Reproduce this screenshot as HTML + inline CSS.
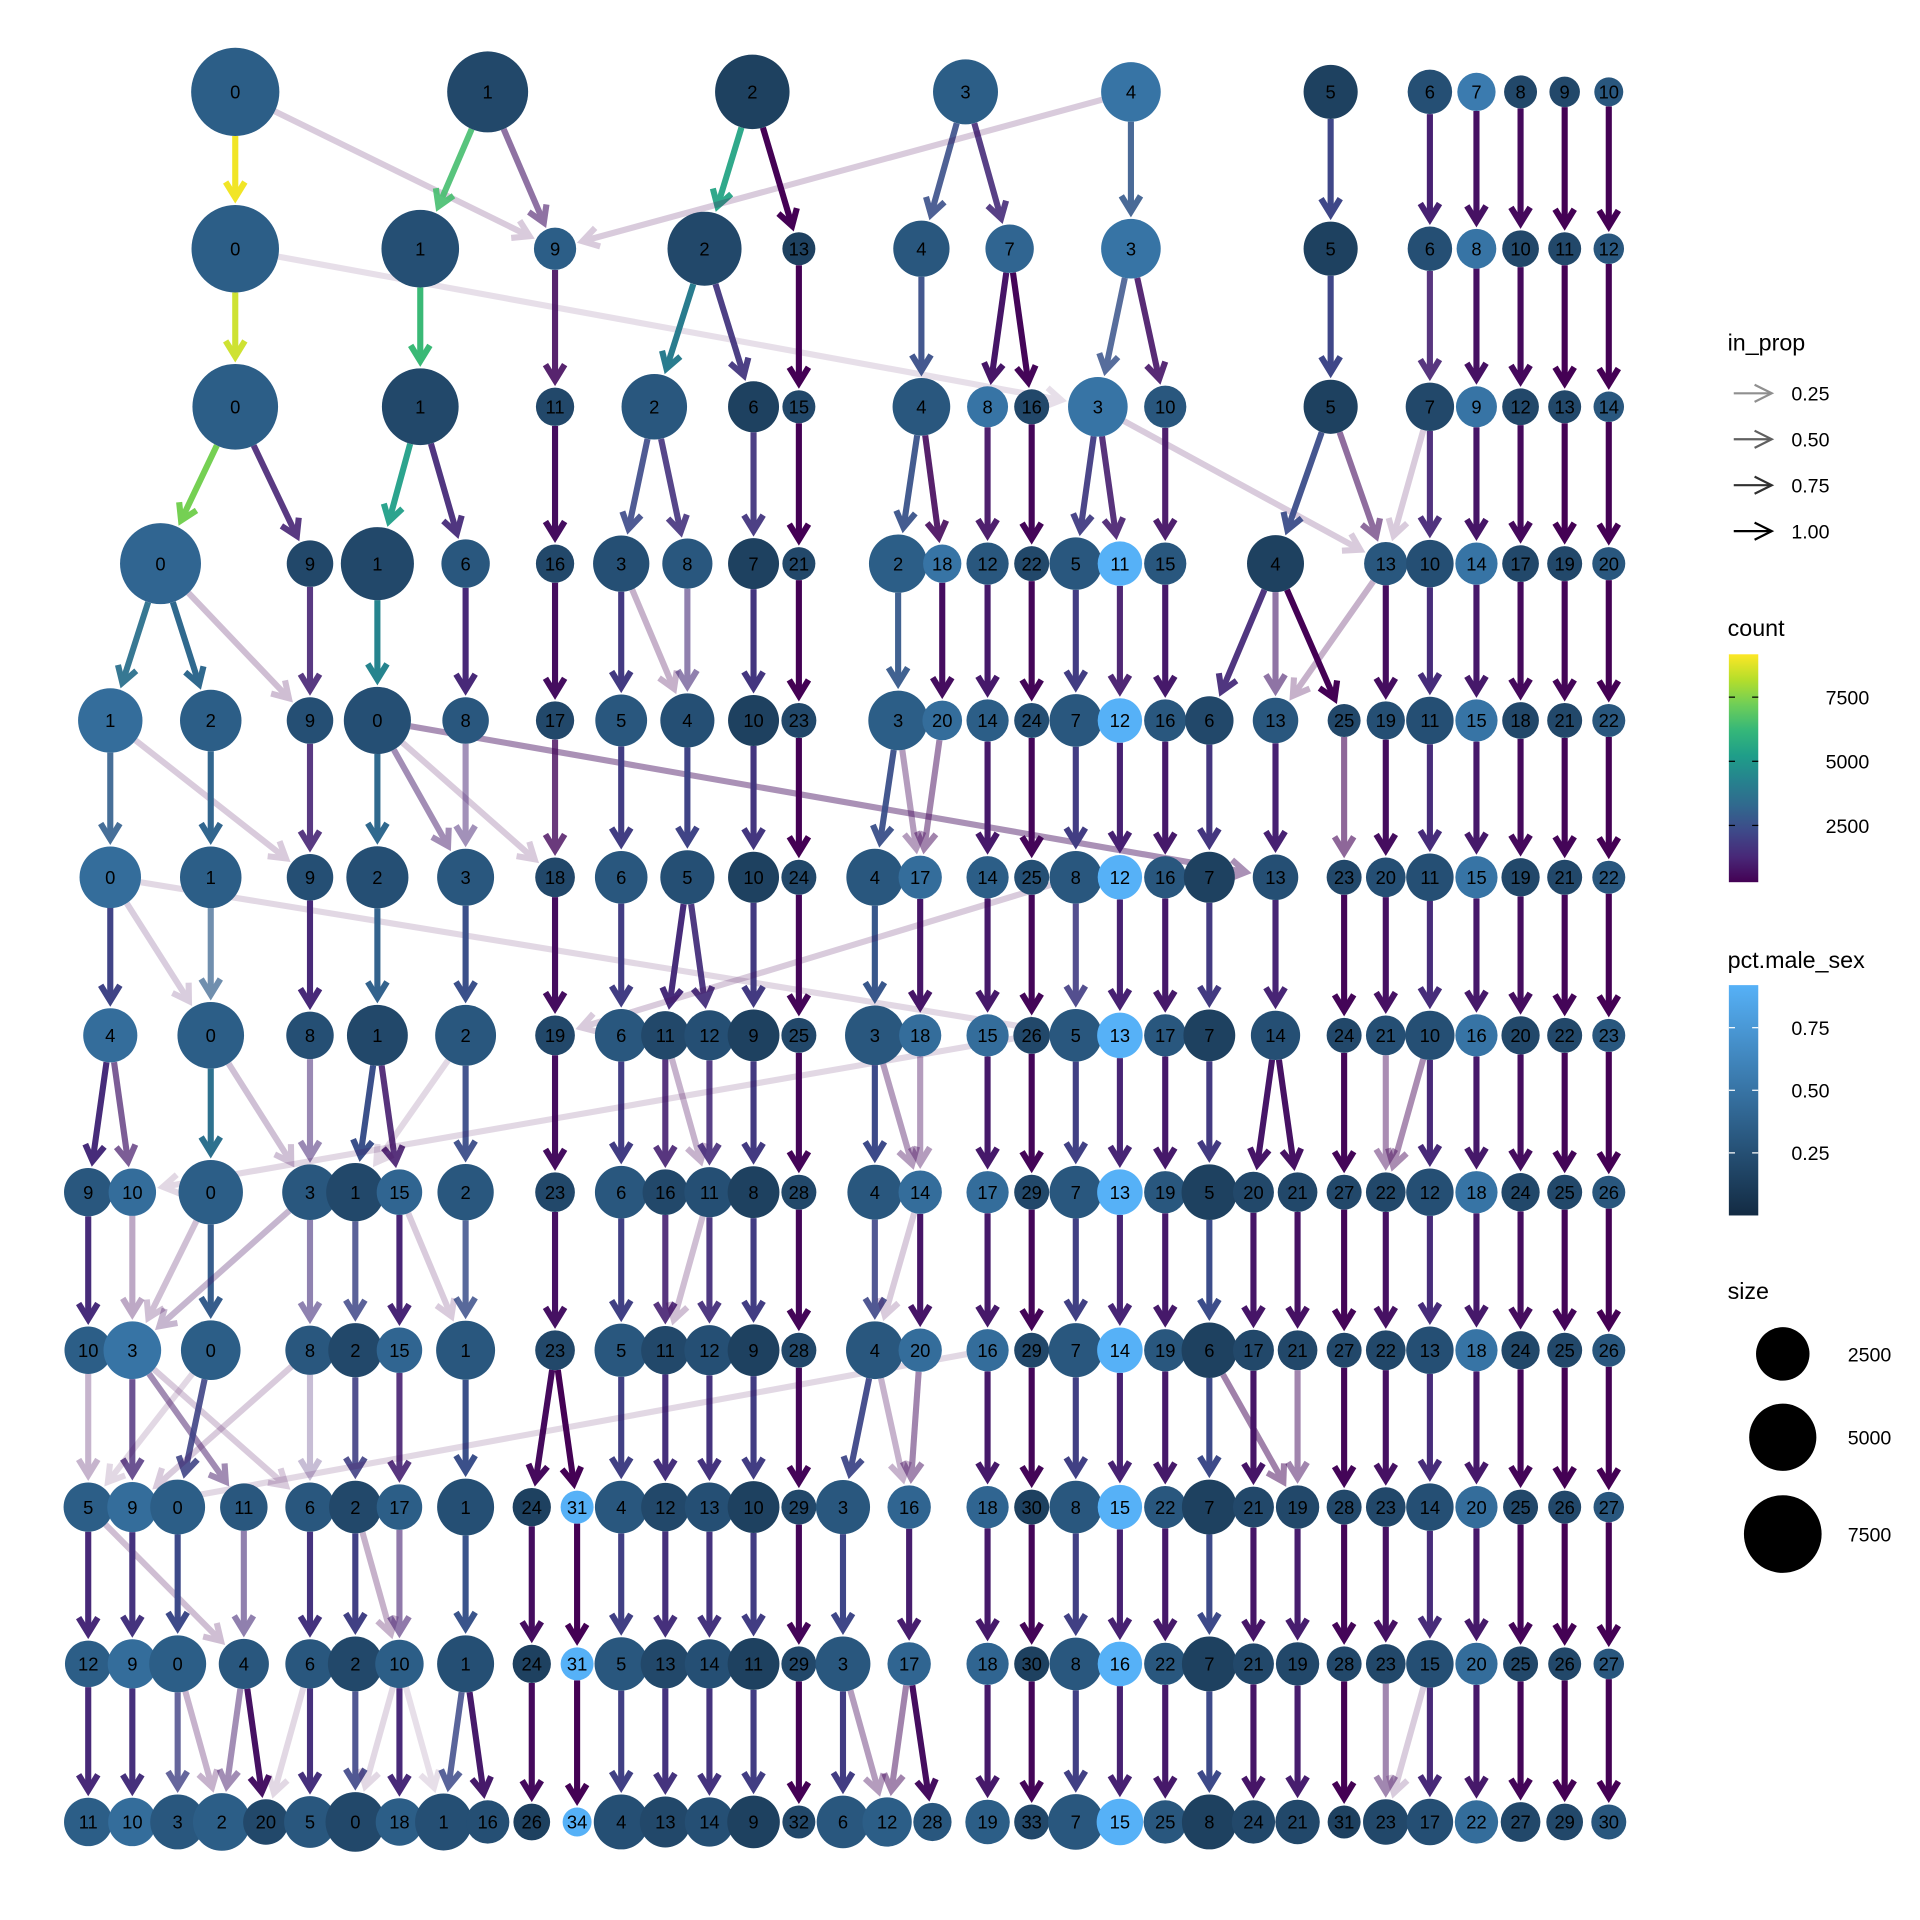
<!DOCTYPE html>
<html><head><meta charset="utf-8"><style>
html,body{margin:0;padding:0;background:#fff}
svg{display:block;font-family:"Liberation Sans",sans-serif}
</style></head><body>
<svg id="chart" width="1920" height="1920" viewBox="0 0 1567 1567" xmlns="http://www.w3.org/2000/svg">
<g id="edges"></g>
<g id="nodes"></g>
<g id="legend"></g>
</svg>
<script>
// ---- data: nodes per resolution row: [cluster, count, pct.male_sex]
const row0=[[0,9200,.35],[1,7300,.2],[2,5800,.15],[3,3900,.35],[4,3000,.5],[5,2200,.15],[6,1100,.25],[7,600,.55],[8,300,.2],[9,200,.2],[10,150,.3]];
const row1=[[0,9000,.35],[1,6500,.25],[9,900,.35],[2,5700,.2],[13,300,.15],[4,2500,.3],[7,1500,.4],[3,3000,.5],[5,2200,.15],[6,1100,.25],[8,700,.5],[10,500,.2],[11,300,.2],[12,200,.3]];
const row2=[[0,8500,.35],[1,6300,.2],[11,600,.2],[2,4000,.3],[6,1800,.15],[15,300,.2],[4,2700,.3],[8,800,.5],[16,400,.2],[3,3000,.5],[10,900,.3],[5,2200,.15],[7,1500,.2],[9,800,.5],[12,500,.2],[13,300,.2],[14,200,.3]];
const row3=[[0,7300,.4],[9,1300,.2],[1,5500,.2],[6,1500,.3],[16,600,.2],[3,2500,.25],[8,1700,.3],[7,1800,.15],[21,300,.2],[2,2800,.35],[18,600,.5],[12,900,.3],[22,400,.2],[5,2000,.3],[11,1100,.95],[15,900,.3],[4,2600,.15],[13,1000,.3],[10,1400,.25],[14,900,.5],[17,500,.2],[19,400,.2],[20,300,.3]];
const row4=[[1,3800,.45],[2,3300,.35],[9,1300,.25],[0,4300,.25],[8,1300,.3],[17,600,.2],[5,1900,.3],[4,2200,.25],[10,1800,.15],[23,400,.2],[3,3000,.35],[20,700,.45],[14,900,.35],[24,400,.25],[7,2000,.3],[12,1100,.95],[16,900,.3],[6,1500,.2],[13,1200,.3],[25,300,.2],[19,600,.25],[11,1400,.25],[15,900,.5],[18,500,.2],[21,400,.2],[22,300,.3]];
const row5=[[0,3300,.45],[1,3300,.35],[9,1300,.25],[2,3400,.25],[3,2600,.3],[18,700,.2],[6,2000,.3],[5,2200,.25],[10,1800,.15],[24,400,.2],[4,2600,.3],[17,1000,.45],[14,900,.35],[25,400,.25],[8,2000,.3],[12,1100,.95],[16,900,.3],[7,1800,.15],[13,1200,.25],[23,400,.2],[20,700,.25],[11,1400,.25],[15,900,.5],[19,600,.2],[21,400,.2],[22,300,.3]];
const row6=[[4,2200,.45],[0,4200,.35],[8,1400,.25],[1,3200,.2],[2,3200,.3],[19,700,.2],[6,2000,.3],[11,1500,.2],[12,1700,.25],[9,1900,.15],[25,400,.2],[3,3000,.3],[18,900,.45],[15,900,.45],[26,500,.2],[5,2000,.3],[13,1200,.95],[17,900,.3],[7,1900,.15],[14,1600,.25],[24,400,.2],[21,700,.25],[10,1600,.25],[16,900,.5],[20,600,.2],[22,400,.2],[23,300,.3]];
const row7=[[9,1500,.3],[10,1400,.45],[0,3800,.35],[3,2400,.3],[1,2800,.2],[15,1200,.4],[2,2500,.3],[23,700,.2],[6,2000,.3],[16,1200,.2],[11,1700,.25],[8,1900,.15],[28,400,.2],[4,2300,.3],[14,1000,.45],[17,900,.45],[29,400,.2],[7,2000,.3],[13,1200,.95],[19,900,.3],[5,2400,.15],[20,800,.2],[21,700,.2],[27,400,.2],[22,700,.2],[12,1400,.25],[18,900,.5],[24,600,.2],[25,400,.2],[26,300,.3]];
const row8=[[10,1400,.35],[3,2700,.5],[0,3000,.35],[8,1600,.3],[2,2200,.2],[15,1200,.4],[1,2900,.3],[23,700,.2],[5,2100,.3],[11,1500,.2],[12,1700,.25],[9,1900,.15],[28,400,.2],[4,2700,.3],[20,1000,.45],[16,900,.45],[29,400,.2],[7,2200,.3],[14,1200,.95],[19,900,.3],[6,2400,.15],[17,800,.2],[21,700,.2],[27,400,.2],[22,700,.2],[13,1400,.25],[18,900,.5],[24,600,.2],[25,400,.2],[26,300,.3]];
const row9=[[5,1600,.35],[9,1700,.45],[0,2300,.35],[11,1400,.3],[6,1600,.3],[2,2000,.2],[17,1200,.35],[1,2600,.25],[24,600,.15],[31,300,.95],[4,2000,.3],[12,1500,.2],[13,1600,.25],[10,1900,.15],[29,400,.2],[3,2200,.3],[16,1000,.4],[18,900,.4],[30,400,.15],[8,2000,.3],[15,1100,.95],[22,900,.3],[7,2300,.15],[21,800,.2],[19,1000,.2],[28,400,.2],[23,700,.2],[14,1400,.25],[20,900,.45],[25,400,.2],[26,300,.2],[27,200,.3]];
const row10=[[12,1300,.35],[9,1600,.45],[0,2600,.35],[4,1700,.3],[6,1600,.3],[2,2300,.2],[10,1500,.35],[1,2600,.25],[24,600,.15],[31,300,.95],[5,2100,.3],[13,1600,.2],[14,1600,.25],[11,1900,.15],[29,400,.2],[3,2300,.3],[17,1000,.4],[18,900,.4],[30,400,.15],[8,2000,.3],[16,1100,.95],[22,900,.3],[7,2300,.15],[21,800,.2],[19,1000,.2],[28,400,.2],[23,700,.2],[15,1400,.25],[20,900,.45],[25,400,.2],[26,300,.2],[27,200,.3]];
const row11=[[11,1500,.35],[10,1500,.45],[3,2300,.3],[2,2700,.35],[20,1200,.2],[5,1900,.3],[0,3000,.2],[18,1400,.35],[1,2600,.25],[16,1000,.25],[26,500,.15],[34,150,.95],[4,2300,.25],[13,1800,.2],[14,1600,.25],[9,2000,.15],[32,300,.2],[6,2000,.3],[12,1600,.35],[28,600,.3],[19,1100,.35],[33,400,.2],[7,2400,.3],[15,1300,.95],[25,1000,.3],[8,2300,.15],[24,1000,.2],[21,1100,.2],[31,300,.15],[23,1200,.2],[17,1300,.25],[22,1000,.45],[27,700,.2],[29,500,.2],[30,400,.3]];
// ---- edges per transition: [fromCluster, toCluster, count, in_prop]
const e0=[[0,0,9000,1],[0,9,250,.2],[1,1,6500,.9],[1,9,800,.6],[2,2,5500,.95],[2,13,300,1],[3,4,2500,.9],[3,7,1400,.9],[4,9,200,.2],[4,3,2800,.9],[5,5,2200,1],[6,6,1100,1],[7,8,700,1],[8,10,500,1],[9,11,300,1],[10,12,200,1]];
const e1=[[0,0,8500,.95],[0,3,300,.1],[1,1,6300,1],[9,11,600,.9],[2,2,4000,1],[2,6,1700,.95],[13,15,300,1],[4,4,2500,.95],[7,8,800,1],[7,16,400,1],[3,3,2600,.85],[3,10,800,.9],[5,5,2200,1],[6,7,1100,.9],[8,9,700,1],[10,12,500,1],[11,13,300,1],[12,14,200,1]];
const e2=[[0,0,7300,1],[0,9,1200,.9],[1,1,5300,.95],[1,6,1400,.95],[11,16,600,1],[2,3,2300,.9],[2,8,1600,.9],[6,7,1700,.95],[15,21,300,1],[4,2,2600,.95],[4,18,500,.9],[8,12,800,.95],[16,22,400,1],[3,5,1900,.95],[3,11,1000,.9],[3,13,250,.2],[10,15,800,.95],[5,4,2400,.95],[5,13,600,.6],[7,13,200,.2],[7,10,1300,.95],[9,14,800,1],[12,17,500,1],[13,19,300,1],[14,20,200,1]];
const e3=[[0,1,3600,.95],[0,2,3300,1],[0,9,300,.25],[9,9,1200,.9],[1,0,4300,1],[6,8,1300,1],[16,17,600,1],[3,5,1800,1],[3,4,300,.3],[8,4,1400,.6],[7,10,1700,1],[21,23,300,1],[2,3,2800,.95],[18,20,600,1],[12,14,900,1],[22,24,400,1],[5,7,1900,1],[11,12,1000,.95],[15,16,900,1],[4,6,1400,.95],[4,13,900,.6],[4,25,300,1],[13,19,600,1],[13,13,300,.3],[10,11,1400,1],[14,15,900,1],[17,18,500,1],[19,21,400,1],[20,22,300,1]];
const e4=[[1,0,3000,.9],[1,9,250,.2],[2,1,3200,1],[9,9,1200,.9],[0,2,3300,1],[0,3,1000,.5],[0,18,300,.2],[0,13,600,.45],[8,3,1200,.5],[17,18,500,.8],[5,6,1900,1],[4,5,2100,1],[10,10,1700,1],[23,24,300,1],[3,4,2500,.95],[3,17,500,.4],[20,17,500,.5],[14,14,900,1],[24,25,400,1],[7,8,1900,1],[12,12,1100,1],[16,16,900,1],[6,7,1700,1],[13,13,1100,1],[25,23,350,.6],[19,20,600,1],[11,11,1400,1],[15,15,900,1],[18,19,500,1],[21,21,400,1],[22,22,300,1]];
const e5=[[0,4,2100,1],[0,0,600,.2],[0,5,300,.15],[1,0,3000,.7],[9,8,1300,1],[2,1,3100,1],[3,2,2500,1],[18,19,600,1],[6,6,1900,1],[5,11,1400,1],[5,12,1500,.95],[10,9,1800,1],[24,25,400,1],[4,3,2700,1],[17,18,800,1],[14,15,900,1],[25,26,400,1],[8,5,1900,.9],[8,19,200,.2],[12,13,1100,1],[16,17,900,1],[7,7,1800,1],[13,14,1200,1],[23,24,400,1],[20,21,700,1],[11,10,1400,1],[15,16,900,1],[19,20,600,1],[21,22,400,1],[22,23,300,1]];
const e6=[[4,9,1400,1],[4,10,900,.7],[0,0,3600,1],[0,3,500,.25],[8,3,1300,.55],[1,1,2500,1],[1,15,1000,.9],[2,2,2400,.95],[2,1,300,.15],[19,23,600,1],[6,6,1900,1],[11,16,1100,.9],[11,11,400,.3],[12,11,1400,.9],[9,8,1800,1],[25,28,400,1],[3,4,2300,1],[3,14,500,.4],[18,14,500,.4],[15,17,900,1],[26,29,400,1],[5,7,2000,1],[26,10,300,.15],[13,13,1200,1],[17,19,900,1],[7,5,1800,1],[14,20,800,1],[14,21,700,1],[24,27,400,1],[21,22,400,.45],[10,22,350,.45],[10,12,1300,1],[16,18,900,1],[20,24,600,1],[22,25,400,1],[23,26,300,1]];
const e7=[[9,10,1400,1],[10,3,500,.35],[0,0,2900,1],[0,3,400,.25],[3,8,1500,.6],[3,3,700,.3],[1,2,2200,.85],[15,15,1200,1],[15,1,300,.2],[2,1,2500,.85],[23,23,700,1],[6,5,2000,1],[16,11,1100,.9],[11,12,1500,.95],[11,11,300,.25],[8,9,1900,1],[28,28,400,1],[4,4,2200,.9],[14,4,300,.2],[14,20,800,1],[17,16,900,1],[29,29,400,1],[7,7,2000,1],[13,14,1200,1],[19,19,900,1],[5,6,2400,1],[20,17,800,1],[21,21,700,1],[27,27,400,1],[22,22,700,1],[12,13,1400,1],[18,18,900,1],[24,24,600,1],[25,25,400,1],[26,26,300,1]];
const e8=[[10,5,500,.3],[3,9,1300,.8],[3,11,900,.5],[3,6,300,.2],[0,0,2100,.9],[0,5,200,.15],[8,6,1300,.3],[8,9,300,.2],[2,2,2000,.9],[15,17,1100,.9],[1,1,2500,1],[23,24,500,1],[23,31,300,1],[5,4,2000,1],[11,12,1500,1],[12,13,1600,1],[9,10,1900,1],[28,29,400,1],[4,3,2200,.95],[4,16,400,.3],[20,16,600,.5],[16,18,900,1],[16,9,200,.15],[29,30,400,1],[7,8,2000,1],[14,15,1100,1],[19,22,900,1],[6,7,2300,1],[6,19,400,.5],[17,21,800,1],[21,19,600,.5],[27,28,400,1],[22,23,700,1],[13,14,1400,1],[18,20,900,1],[24,25,400,1],[25,26,300,1],[26,27,200,1]];
const e9=[[5,12,1300,1],[5,4,300,.25],[9,9,1600,1],[0,0,2300,1],[11,4,1400,.6],[6,6,1600,1],[2,2,2000,1],[2,10,300,.3],[17,10,1100,.6],[1,1,2600,1],[24,24,600,1],[31,31,300,1],[4,5,2000,1],[12,13,1500,1],[13,14,1600,1],[10,11,1900,1],[29,29,400,1],[3,3,2200,1],[16,17,1000,1],[18,18,900,1],[30,30,400,1],[8,8,2000,1],[15,16,1100,1],[22,22,900,1],[7,7,2300,1],[21,21,800,1],[19,19,1000,1],[28,28,400,1],[23,23,700,1],[14,15,1400,1],[20,20,900,1],[25,25,400,1],[26,26,300,1],[27,27,200,1]];
const e10=[[12,11,1300,1],[9,10,1500,1],[0,3,2000,.8],[0,2,400,.3],[4,2,1000,.5],[4,20,700,1],[6,5,1500,1],[6,20,300,.15],[2,0,2200,.9],[10,18,1300,1],[10,0,300,.15],[10,1,200,.1],[1,1,2300,.85],[1,16,900,1],[24,26,500,1],[31,34,150,1],[5,4,2000,1],[13,13,1600,1],[14,14,1600,1],[11,9,1900,1],[29,32,300,1],[3,6,1900,1],[3,12,500,.4],[17,12,500,.5],[17,28,600,1],[18,19,900,1],[30,33,400,1],[8,7,2000,1],[16,15,1100,1],[22,25,900,1],[7,8,2300,1],[21,24,800,1],[19,21,1000,1],[28,31,300,1],[23,23,700,.5],[15,23,400,.2],[15,17,1300,1],[20,22,900,1],[25,27,400,1],[26,29,300,1],[27,30,200,1]];
const legendProp=[0.25,0.5,0.75,1.0];
const legendCountTicks=[2500,5000,7500];
const legendPctTicks=[0.25,0.5,0.75];
const legendSizes=[2500,5000,7500];

// ---- layout (tree positions, display units)
const rowY=[75,203,332,460,588,716,845,973,1102,1230,1358,1487];
const lx0=[192,398,614,788,923,1086,1167,1205,1241,1277,1313];
const lx1=[192,343,453,575,652,752,824,923,1086,1167,1205,1241,1277,1313];
const lx2=[192,343,453,534,615,652,752,806,842,896,951,1086,1167,1205,1241,1277,1313];
const lx3=[131,253,308,380,453,507,561,615,652,733,769,806,842,878,914,951,1041,1131,1167,1205,1241,1277,1313];
const lx4=[90,172,253,308,380,453,507,561,615,652,733,769,806,842,878,914,951,987,1041,1097,1131,1167,1205,1241,1277,1313];
const lx5=[90,172,253,308,380,453,507,561,615,652,714,751,806,842,878,914,951,987,1041,1097,1131,1167,1205,1241,1277,1313];
const lx6=[90,172,253,308,380,453,507,543,579,615,652,714,751,806,842,878,914,951,987,1041,1097,1131,1167,1205,1241,1277,1313];
const lx7=[72,108,172,253,290,326,380,453,507,543,579,615,652,714,751,806,842,878,914,951,987,1023,1059,1097,1131,1167,1205,1241,1277,1313];
const lx8=lx7;
const lx9=[72,108,145,199,253,290,326,380,434,471,507,543,579,615,652,688,742,806,842,878,914,951,987,1023,1059,1097,1131,1167,1205,1241,1277,1313];
const lx10=lx9;
const lx11=[72,108,145,181,217,253,290,326,362,398,434,471,507,543,579,615,652,688,724,761,806,842,878,914,951,987,1023,1059,1097,1131,1167,1205,1241,1277,1313];

const rows=[row0,row1,row2,row3,row4,row5,row6,row7,row8,row9,row10,row11];
const layoutX=[lx0,lx1,lx2,lx3,lx4,lx5,lx6,lx7,lx8,lx9,lx10,lx11];
const edgeSets=[e0,e1,e2,e3,e4,e5,e6,e7,e8,e9,e10];

const NS="http://www.w3.org/2000/svg";
function mk(tag,attrs,parent){const el=document.createElementNS(NS,tag);for(const k in attrs)el.setAttribute(k,attrs[k]);if(parent)parent.appendChild(el);return el;}
const CMIN=288,CMAX=9170,PMAX=0.92;
const vir=[[68,1,84],[72,40,120],[62,73,137],[49,104,142],[38,130,142],[31,158,137],[53,183,121],[110,206,88],[181,222,43],[253,231,37]];
function lerpStops(st,t){t=Math.max(0,Math.min(1,t));const p=t*(st.length-1),i=Math.min(st.length-2,Math.floor(p)),f=p-i;const a=st[i],b=st[i+1];return `rgb(${Math.round(a[0]+(b[0]-a[0])*f)},${Math.round(a[1]+(b[1]-a[1])*f)},${Math.round(a[2]+(b[2]-a[2])*f)})`;}
function countColor(c){return lerpStops(vir,(c-CMIN)/(CMAX-CMIN));}
function pctColor(p){return lerpStops([[19,43,67],[86,177,247]],p/PMAX);}
function radius(c){return 9+27*Math.sqrt(Math.max(0,c-50)/9150);}
function nodeIndex(r,cl){return rows[r].findIndex(n=>n[0]===cl);}

const gE=document.getElementById('edges'),gN=document.getElementById('nodes'),gL=document.getElementById('legend');
function arrow(parent,x1,y1,x2,y2,color,alpha,w){
  const g=mk('g',{},parent);
  g.setAttribute('opacity',Math.max(0.12,alpha));
  mk('line',{x1,y1,x2,y2,stroke:color,'stroke-width':w},g);
  const dx=x2-x1,dy=y2-y1,L=Math.hypot(dx,dy)||1,ux=dx/L,uy=dy/L,al=15,ang=0.55;
  const ca=Math.cos(ang),sa=Math.sin(ang);
  const ax=x2-al*(ux*ca-uy*sa),ay=y2-al*(uy*ca+ux*sa);
  const bx=x2-al*(ux*ca+uy*sa),by=y2-al*(uy*ca-ux*sa);
  mk('polyline',{points:`${ax},${ay} ${x2},${y2} ${bx},${by}`,fill:'none',stroke:color,'stroke-width':w,'stroke-linejoin':'miter'},g);
  return g;
}
edgeSets.forEach((es,r)=>{
  es.forEach(e=>{
    const si=nodeIndex(r,e[0]),ti=nodeIndex(r+1,e[1]);
    if(si<0||ti<0)return;
    const sx=layoutX[r][si],sy=rowY[r],tx=layoutX[r+1][ti],ty=rowY[r+1];
    const rs=radius(rows[r][si][1]),rt=radius(rows[r+1][ti][1]);
    const dx=tx-sx,dy=ty-sy,L=Math.hypot(dx,dy),ux=dx/L,uy=dy/L;
    const g=arrow(gE,sx+ux*rs,sy+uy*rs,tx-ux*(rt+6),ty-uy*(rt+6),countColor(e[2]),e[3],5);
    
    
  });
});
rows.forEach((nodes,r)=>{
  nodes.forEach((n,i)=>{
    const x=layoutX[r][i],y=rowY[r];
    const g=mk('g',{},gN);
    
    
    mk('circle',{cx:x,cy:y,r:radius(n[1]),fill:pctColor(n[2])},g);
    const t=mk('text',{x:x,y:y+5.5,'text-anchor':'middle','font-size':15,fill:'#000'},g);
    t.textContent=n[0];
  });
});
function txt(x,y,s,size,name,anchor){const t=mk('text',{x,y,'font-size':size,fill:'#000','text-anchor':anchor||'start'},gL);t.textContent=s;return t;}
txt(1410,286,'in_prop',19,'in-prop-legend-title');
legendProp.forEach((p,i)=>{const y=321+i*37.5;const v=Math.round(255*(1-p)*0.75);const c=`rgb(${v},${v},${v})`;
  const g=mk('g',{},gL);
  mk('line',{x1:1415,y1:y,x2:1446,y2:y,stroke:c,'stroke-width':1.8},g);
  mk('polyline',{points:`${1432},${y-7} ${1446},${y} ${1432},${y+7}`,fill:'none',stroke:c,'stroke-width':1.8},g);
  txt(1462,y+6,p.toFixed(2),16,'in-prop-label-'+p);});
txt(1410,519,'count',19,'count-legend-title');
const defs=mk('defs',{},document.getElementById('chart'));
const lg1=mk('linearGradient',{id:'gv',x1:0,y1:1,x2:0,y2:0},defs);
vir.forEach((c,i)=>mk('stop',{offset:i/(vir.length-1),'stop-color':`rgb(${c})`},lg1));
const b1=mk('rect',{x:1411,y:534,width:24,height:186,fill:'url(#gv)'},gL);
function cy(c){return 720-(c-CMIN)/(CMAX-CMIN)*186;}
legendCountTicks.forEach(c=>{const y=cy(c);mk('line',{x1:1411,y1:y,x2:1416,y2:y,stroke:'#000','stroke-width':1},gL);mk('line',{x1:1430,y1:y,x2:1435,y2:y,stroke:'#000','stroke-width':1},gL);txt(1490,y+6,String(c),16,'count-label-'+c);});
txt(1410,790,'pct.male_sex',19,'pct-legend-title');
const lg2=mk('linearGradient',{id:'gp',x1:0,y1:1,x2:0,y2:0},defs);
mk('stop',{offset:0,'stop-color':'#132B43'},lg2);mk('stop',{offset:1,'stop-color':'#56B1F7'},lg2);
const b2=mk('rect',{x:1411,y:804,width:24,height:188,fill:'url(#gp)'},gL);
function py(p){return 992-p/PMAX*188;}
legendPctTicks.forEach(p=>{const y=py(p);mk('line',{x1:1411,y1:y,x2:1416,y2:y,stroke:'#fff','stroke-width':1},gL);mk('line',{x1:1430,y1:y,x2:1435,y2:y,stroke:'#fff','stroke-width':1},gL);txt(1462,y+6,p.toFixed(2),16,'pct-label-'+p);});
txt(1410,1060,'size',19,'size-legend-title');
const sizeY=[1105,1173,1252];
legendSizes.forEach((s,i)=>{const c=mk('circle',{cx:1455,cy:sizeY[i],r:radius(s)*0.95,fill:'#000'},gL);txt(1508,sizeY[i]+6,String(s),16,'size-label-'+s);});
</script>
</body></html>
